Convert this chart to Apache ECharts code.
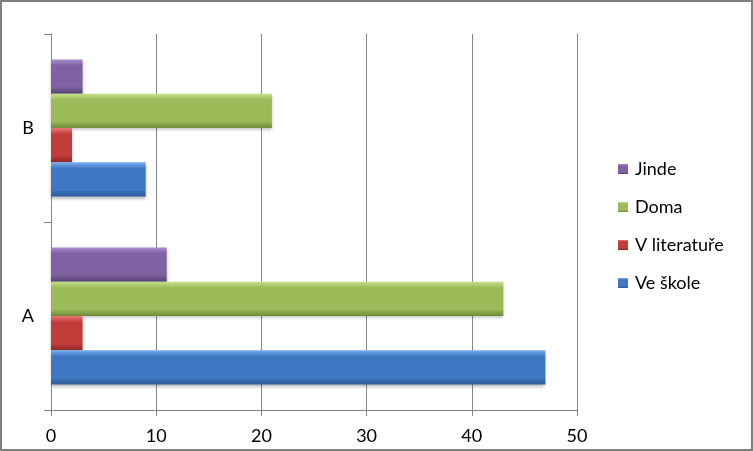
<!DOCTYPE html>
<html><head><meta charset="utf-8">
<script src="https://cdn.jsdelivr.net/npm/echarts@6/dist/echarts.min.js"></script>
<style>
html,body{margin:0;padding:0;background:#fff;}
#wrap{position:relative;width:753px;height:451px;}
#c{position:absolute;left:0;top:0;width:753px;height:451px;}
#frame{position:absolute;left:0;top:0;width:753px;height:451px;box-sizing:border-box;border:2px solid #7f7f7f;pointer-events:none;}
</style></head>
<body>
<div id="wrap"><div id="c"></div><div id="frame"></div></div>
<script>
const categories = ['A', 'B'];
const seriesNames = ['Ve škole', 'V literatuře', 'Doma', 'Jinde'];
const veSkole = [47, 9];
const vLiterature = [3, 2];
const doma = [43, 21];
const jinde = [11, 3];
const valueTicks = [0, 10, 20, 30, 40, 50];

const palette = [
  ['#79aef0', '#3f78c2', '#2c5a98'],
  ['#e87a78', '#c23c3a', '#8f2826'],
  ['#c7e08a', '#9bbb59', '#6f8a3a'],
  ['#a98cd0', '#7f62a1', '#574278']
];
function grad(p) {
  return new echarts.graphic.LinearGradient(0, 0, 0, 1, [
    {offset: 0, color: p[0]},
    {offset: 0.18, color: p[1]},
    {offset: 0.8, color: p[1]},
    {offset: 1, color: p[2]}
  ]);
}
const datasets = [veSkole, vLiterature, doma, jinde];
const chart = echarts.init(document.getElementById('c'));
// ECharts places the first series at the top of each band, so add them in reverse
const series = [];
for (let i = datasets.length - 1; i >= 0; i--) {
  series.push({
    name: seriesNames[i],
    type: 'bar',
    data: datasets[i],
    barGap: '0%',
    barCategoryGap: '27%',
    itemStyle: {color: grad(palette[i]), shadowColor: 'rgba(0,0,0,0.25)', shadowBlur: 3, shadowOffsetY: 2},
    emphasis: {disabled: true}
  });
}
chart.setOption({
  animation: false,
  grid: {left: 51, right: 176, top: 34, bottom: 41, containLabel: false},
  xAxis: {
    type: 'value', min: valueTicks[0], max: valueTicks[valueTicks.length - 1], interval: 10,
    axisLine: {show: true, lineStyle: {color: '#868686'}},
    axisTick: {show: true, length: 6, lineStyle: {color: '#868686'}},
    splitLine: {show: true, lineStyle: {color: '#868686', width: 1}},
    axisLabel: {color: '#000', fontSize: 18, fontFamily: 'Lato', margin: 17}
  },
  yAxis: {
    type: 'category', data: categories,
    axisLine: {show: true, lineStyle: {color: '#868686'}},
    axisTick: {show: true, length: 7, lineStyle: {color: '#868686'}},
    axisLabel: {color: '#000', fontSize: 18, fontFamily: 'Lato', margin: 17}
  },
  legend: {
    orient: 'vertical', left: 613, top: 154,
    data: seriesNames.slice().reverse(),
    itemWidth: 10, itemHeight: 10, itemGap: 18,
    icon: 'rect',
    textStyle: {color: '#000', fontSize: 18, fontFamily: 'Lato', lineHeight: 20, padding: [0, 0, 0, 2]}
  },
  series: series
});
</script>
</body></html>
